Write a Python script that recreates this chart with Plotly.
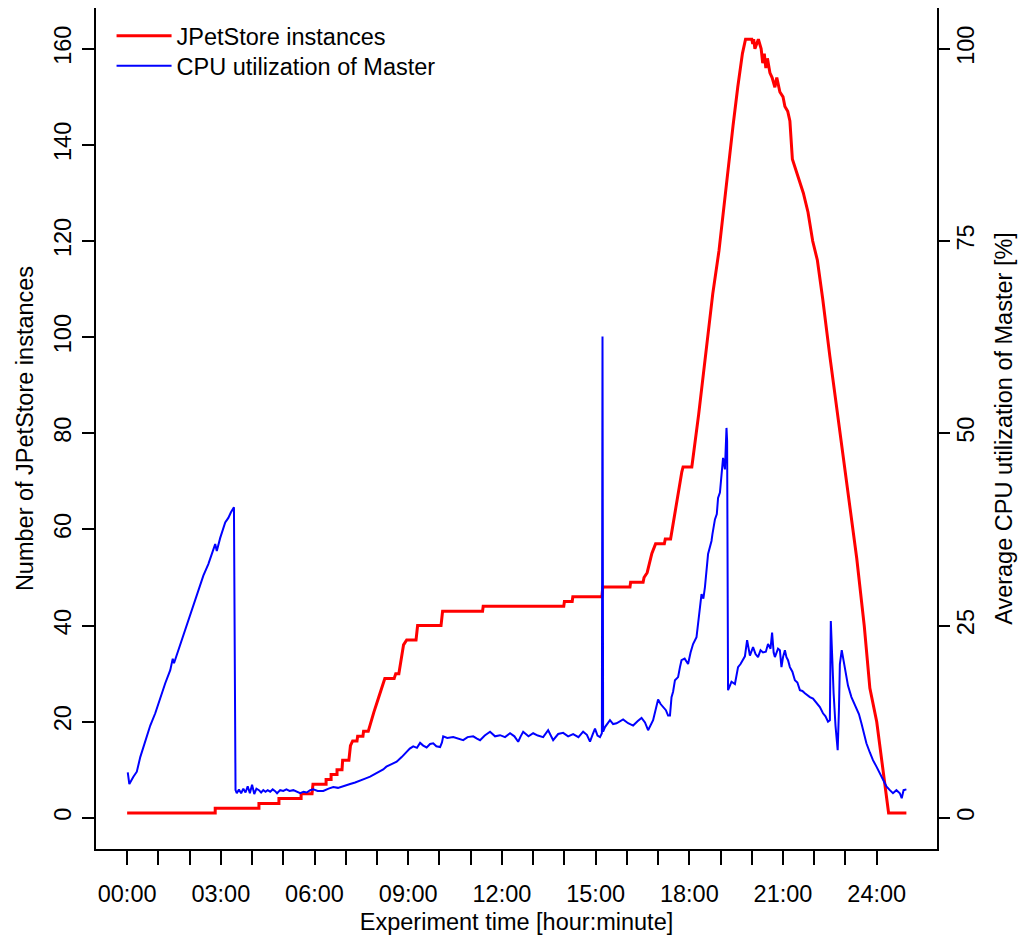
import plotly.graph_objects as go

# ---- Data ----
# x: experiment time in hours
red_time = [0.00, 2.82, 2.82, 4.22, 4.22, 4.86, 4.86, 5.57, 5.57, 5.92, 5.95, 6.37, 6.37, 6.53, 6.53,
            6.72, 6.72, 6.88, 6.90, 7.10, 7.15, 7.22, 7.36, 7.38, 7.55, 7.57, 7.72, 7.80, 7.90, 8.05,
            8.20, 8.25, 8.55, 8.60, 8.70, 8.85, 8.95, 9.25, 9.30, 10.05, 10.10, 11.38, 11.40, 13.98,
            14.00, 14.25, 14.27, 15.20, 15.23, 16.10, 16.12, 16.52, 16.55, 16.65, 16.80, 16.92, 17.20,
            17.23, 17.40, 17.55, 17.70, 17.76, 17.80, 18.08, 18.30, 18.45, 18.60, 18.75, 18.95, 19.10,
            19.25, 19.40, 19.55, 19.70, 19.80, 20.00, 20.03, 20.06, 20.10, 20.15, 20.21, 20.30, 20.35,
            20.40, 20.45, 20.50, 20.58, 20.65, 20.74, 20.80, 20.90, 21.00, 21.06, 21.15, 21.22, 21.30,
            21.40, 21.54, 21.65, 21.80, 21.95, 22.10, 22.27, 22.50, 22.75, 23.00, 23.20, 23.36, 23.60,
            23.78, 24.00, 24.10, 24.26, 24.38, 24.95]
red_count = [1, 1, 2, 2, 3, 3, 4, 4, 5, 5, 7, 7, 8, 8, 9,
             9, 10, 10, 12, 12, 15, 16, 16, 17, 17, 18, 18, 20, 22, 25,
             28, 29, 29, 30, 30, 36, 37, 37, 40, 40, 43, 43, 44, 44,
             45, 45, 46, 46, 48, 48, 49, 49, 50, 51, 55, 57, 57,
             58, 58, 64, 70, 72, 73, 73, 84, 92, 100, 109, 118, 127,
             136, 144, 152, 159, 162, 162, 161, 162, 160, 161, 162, 160, 157,
             159, 156, 158, 155, 154, 152, 154, 151, 150, 148, 147, 145, 137,
             135, 132, 130, 126, 120, 116, 108, 96, 84, 72, 62, 54, 40,
             27, 20, 15, 8, 1, 1]

cpu_time = [0.02, 0.07, 0.20, 0.31, 0.42, 0.58, 0.74, 0.90, 1.06, 1.22, 1.38, 1.46, 1.50, 1.64, 1.80,
            1.96, 2.12, 2.28, 2.44, 2.60, 2.76, 2.82, 2.87, 2.98, 3.14, 3.24, 3.32, 3.42, 3.47, 3.51,
            3.58, 3.65, 3.72, 3.79, 3.86, 3.93, 4.00, 4.07, 4.14, 4.22, 4.29, 4.36, 4.43, 4.50, 4.58,
            4.66, 4.73, 4.80, 4.90, 5.00, 5.10, 5.20, 5.32, 5.45, 5.54, 5.65, 5.75, 5.86, 5.96, 6.10,
            6.28, 6.45, 6.60, 6.75, 6.92, 7.05, 7.14, 7.30, 7.46, 7.62, 7.78, 7.95, 8.10, 8.20, 8.30,
            8.45, 8.63, 8.79, 8.95, 9.05, 9.16, 9.28, 9.38, 9.48, 9.59, 9.70, 9.80, 9.90, 10.02, 10.08,
            10.12, 10.25, 10.44, 10.60, 10.76, 10.90, 11.08, 11.20, 11.30, 11.45, 11.62, 11.78, 11.94,
            12.10, 12.26, 12.40, 12.52, 12.60, 12.68, 12.85, 13.00, 13.15, 13.32, 13.48, 13.64, 13.80,
            13.96, 14.12, 14.28, 14.45, 14.60, 14.72, 14.82, 14.90, 14.98, 15.06, 15.14, 15.20, 15.22,
            15.24, 15.30, 15.46, 15.56, 15.67, 15.78, 15.88, 16.04, 16.20, 16.35, 16.47, 16.58, 16.68,
            16.84, 17.00, 17.08, 17.16, 17.25, 17.32, 17.38, 17.43, 17.48, 17.54, 17.64, 17.70, 17.75,
            17.85, 17.96, 18.04, 18.12, 18.23, 18.31, 18.39, 18.45, 18.50, 18.60, 18.71, 18.74, 18.82,
            18.88, 18.92, 18.98, 19.03, 19.08, 19.14, 19.19, 19.21, 19.24, 19.30, 19.35, 19.46, 19.56,
            19.64, 19.72, 19.78, 19.85, 19.94, 20.04, 20.12, 20.20, 20.28, 20.36, 20.45, 20.52, 20.60,
            20.65, 20.70, 20.74, 20.84, 20.90, 20.95, 21.00, 21.06, 21.11, 21.16, 21.22, 21.30, 21.38,
            21.46, 21.54, 21.62, 21.70, 21.78, 21.86, 21.96, 22.07, 22.18, 22.28, 22.36, 22.44, 22.50,
            22.53, 22.58, 22.62, 22.68, 22.75, 22.79, 22.82, 22.88, 22.93, 22.98, 23.08, 23.19, 23.27,
            23.35, 23.43, 23.51, 23.59, 23.67, 23.78, 23.88, 24.00, 24.10, 24.20, 24.31, 24.42, 24.52,
            24.63, 24.74, 24.80, 24.86, 24.95]
cpu_util = [5.9, 4.4, 5.35, 6.0, 7.9, 10.1, 12.0, 13.6, 15.7, 17.5, 19.2, 20.7, 20.1, 21.8, 23.9,
            25.6, 27.6, 29.5, 31.5, 33.0, 35.1, 35.6, 34.7, 36.4, 38.4, 39.0, 39.7, 40.4, 3.6, 3.2,
            3.7, 3.2, 3.8, 3.3, 4.1, 3.2, 4.3, 3.1, 3.8, 3.6, 3.3, 3.6, 3.4, 3.6, 3.4,
            3.7, 3.5, 3.2, 3.6, 3.5, 3.7, 3.5, 3.6, 3.3, 3.2, 3.4, 3.3, 3.6, 3.7, 3.5,
            3.5, 3.8, 4.0, 3.9, 4.1, 4.2, 4.4, 4.6, 4.9, 5.1, 5.35, 5.7, 6.0, 6.3, 6.65,
            6.9, 7.3, 7.9, 8.6, 9.0, 9.3, 9.1, 9.75, 9.4, 9.15, 9.6, 9.7, 9.3, 9.2, 9.8,
            10.6, 10.4, 10.5, 10.3, 10.1, 10.5, 10.6, 10.3, 10.1, 10.7, 11.2, 10.6, 10.75,
            10.5, 11.0, 10.6, 9.9, 10.6, 11.2, 10.6, 11.0, 10.7, 10.5, 11.4, 10.1, 10.9,
            11.05, 10.6, 10.9, 10.5, 11.2, 10.8, 9.9, 10.8, 11.6, 10.7, 10.5, 11.0, 62.6,
            11.2, 11.8, 12.7, 12.2, 12.3, 12.6, 12.8, 12.3, 12.0, 12.6, 13.0, 12.4, 11.4,
            12.7, 15.4, 14.8, 14.4, 14.0, 13.3, 13.3, 15.7, 16.4, 17.9, 18.3, 19.6, 20.5,
            20.7, 20.0, 21.5, 22.6, 23.5, 26.5, 29.1, 28.5, 30.0, 34.3, 36.0, 36.9, 38.8,
            39.5, 41.6, 42.3, 44.9, 46.8, 45.3, 50.7, 49.0, 16.6, 17.2, 17.7, 17.4, 19.6,
            20.0, 20.5, 21.0, 23.1, 21.1, 22.2, 21.3, 20.9, 21.8, 21.5, 21.6, 22.6, 22.0,
            24.1, 21.5, 20.9, 22.0, 21.8, 19.6, 20.9, 21.8, 20.9, 20.5, 19.6, 19.0, 17.9,
            17.6, 16.6, 16.5, 16.2, 15.9, 15.7, 15.5, 14.9, 14.4, 13.6, 13.2, 12.5, 12.7,
            25.6, 19.5, 16.2, 12.0, 8.8, 14.0, 20.0, 21.8, 20.5, 19.6, 17.2, 15.7, 15.0,
            14.4, 13.5, 12.3, 11.0, 9.7, 8.5, 7.5, 6.6, 5.8, 5.0, 4.1, 3.6, 3.2,
            3.6, 3.2, 2.55, 3.6, 3.7]

hour_ticks = list(range(0, 25))
hour_labels = ["%02d:00" % h if h % 3 == 0 else "" for h in hour_ticks]
left_ticks = [0, 20, 40, 60, 80, 100, 120, 140, 160]
right_ticks = [0, 25, 50, 75, 100]

FONT = "Liberation Sans, Arial, Helvetica, sans-serif"
FS = 23.5
TXT = dict(family=FONT, size=FS, color="black")

fig = go.Figure()
fig.add_trace(go.Scatter(x=red_time, y=red_count, mode="lines", name="JPetStore instances",
                         line=dict(color="#FF0000", width=3), legend="legend"))
fig.add_trace(go.Scatter(x=cpu_time, y=cpu_util, mode="lines", name="CPU utilization of Master",
                         yaxis="y2", line=dict(color="#0000FF", width=2), legend="legend2"))

left_range = [-6.48, 168.48]
leg_common = dict(xanchor="left", yanchor="middle", bgcolor="rgba(0,0,0,0)", borderwidth=0,
                  font=TXT, itemwidth=55)
fig.update_layout(
    width=1020, height=932,
    margin=dict(l=88, r=91, t=0, b=91, autoexpand=False),
    paper_bgcolor="white", plot_bgcolor="white",
    font=TXT,
    showlegend=True,
    legend=dict(x=0.0185, y=0.9667, **leg_common),
    legend2=dict(x=0.0185, y=0.931, **leg_common),
    xaxis=dict(range=[-0.997, 25.93], tickmode="array", tickvals=hour_ticks, ticktext=hour_labels,
               ticks="outside", ticklen=14, tickwidth=1.5, tickcolor="black",
               showline=True, linecolor="black", linewidth=1.6, mirror=True,
               showgrid=False, zeroline=False, automargin=False, ticklabelstandoff=9,
               tickfont=TXT,
               title=dict(text="Experiment time [hour:minute]", standoff=8, font=TXT)),
    yaxis=dict(range=left_range, tickmode="array", tickvals=left_ticks, tickangle=-90,
               ticks="outside", ticklen=12, tickwidth=1.5, tickcolor="black",
               showline=True, linecolor="black", linewidth=1.6, mirror=True,
               showgrid=False, zeroline=False, automargin=False, ticklabelstandoff=2,
               tickfont=TXT,
               title=dict(text="Number of JPetStore instances", standoff=10, font=TXT)),
    yaxis2=dict(range=[left_range[0] / 1.6, left_range[1] / 1.6], overlaying="y", side="right",
                tickmode="array", tickvals=right_ticks, tickangle=-90,
                ticks="outside", ticklen=12, tickwidth=1.5, tickcolor="black",
                showline=False, showgrid=False, zeroline=False, automargin=False,
                ticklabelstandoff=-4, tickfont=TXT,
                title=dict(text="Average CPU utilization of Master [%]", standoff=17, font=TXT)),
)

fig.write_html("out.html")
